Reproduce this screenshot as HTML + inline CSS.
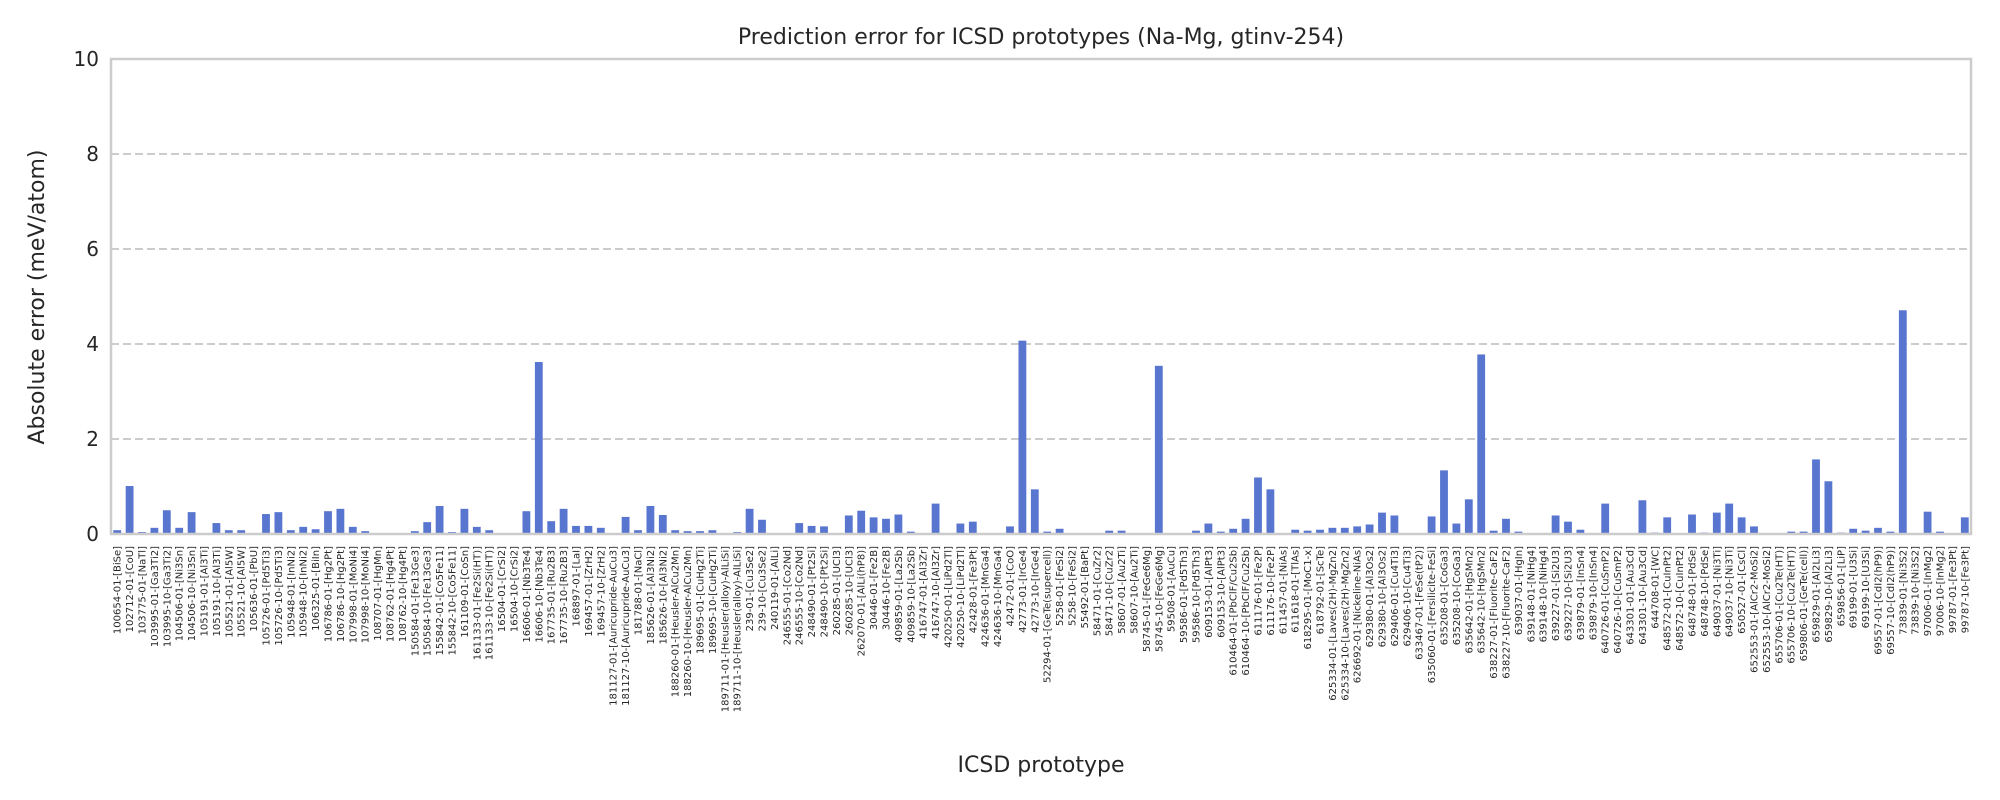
<!DOCTYPE html>
<html><head><meta charset="utf-8">
<style>
html,body{margin:0;padding:0;background:#fff;}
svg{display:block;font-family:"DejaVu Sans","Liberation Sans",sans-serif;}
</style></head>
<body>
<svg id="chart" width="2000" height="800" viewBox="0 0 2000 800">
<text x="1041" y="44" text-anchor="middle" font-size="22" fill="#262626">Prediction error for ICSD prototypes (Na-Mg, gtinv-254)</text>
<text transform="translate(44,297) rotate(-90)" text-anchor="middle" font-size="22" fill="#262626">Absolute error (meV/atom)</text>
<text x="1041" y="772" text-anchor="middle" font-size="22" fill="#262626">ICSD prototype</text>
<g id="grid"></g>
<g id="bars"></g>
<g id="yticks"></g>
<g id="xticks"></g>
<rect x="111" y="59" width="1860" height="475" fill="none" stroke="#cccccc" stroke-width="2.5"/>
</svg>
<script>
const categories = ["100654-01-[BiSe]","102712-01-[CoU]","103775-01-[NaTl]","103995-01-[Ga3Ti2]","103995-10-[Ga3Ti2]","104506-01-[Ni3Sn]","104506-10-[Ni3Sn]","105191-01-[Al3Ti]","105191-10-[Al3Ti]","105521-01-[Al5W]","105521-10-[Al5W]","105636-01-[PbU]","105726-01-[Pd5Ti3]","105726-10-[Pd5Ti3]","105948-01-[InNi2]","105948-10-[InNi2]","106325-01-[BiIn]","106786-01-[Hg2Pt]","106786-10-[Hg2Pt]","107998-01-[MoNi4]","107998-10-[MoNi4]","108707-01-[HgMn]","108762-01-[Hg4Pt]","108762-10-[Hg4Pt]","150584-01-[Fe13Ge3]","150584-10-[Fe13Ge3]","155842-01-[Co5Fe11]","155842-10-[Co5Fe11]","161109-01-[CoSn]","161133-01-[Fe2Si(HT)]","161133-10-[Fe2Si(HT)]","16504-01-[CrSi2]","16504-10-[CrSi2]","16606-01-[Nb3Te4]","16606-10-[Nb3Te4]","167735-01-[Ru2B3]","167735-10-[Ru2B3]","168897-01-[LaI]","169457-01-[ZrH2]","169457-10-[ZrH2]","181127-01-[Auricupride-AuCu3]","181127-10-[Auricupride-AuCu3]","181788-01-[NaCl]","185626-01-[Al3Ni2]","185626-10-[Al3Ni2]","188260-01-[Heusler-AlCu2Mn]","188260-10-[Heusler-AlCu2Mn]","189695-01-[CuHg2Ti]","189695-10-[CuHg2Ti]","189711-01-[Heusler(alloy)-AlLiSi]","189711-10-[Heusler(alloy)-AlLiSi]","239-01-[Cu3Se2]","239-10-[Cu3Se2]","240119-01-[AlLi]","246555-01-[Co2Nd]","246555-10-[Co2Nd]","248490-01-[Pt2Si]","248490-10-[Pt2Si]","260285-01-[UCl3]","260285-10-[UCl3]","262070-01-[AlLi(hP8)]","30446-01-[Fe2B]","30446-10-[Fe2B]","409859-01-[La2Sb]","409859-10-[La2Sb]","416747-01-[Al3Zr]","416747-10-[Al3Zr]","420250-01-[LiPd2Tl]","420250-10-[LiPd2Tl]","42428-01-[Fe3Pt]","424636-01-[MnGa4]","424636-10-[MnGa4]","42472-01-[CoO]","42773-01-[IrGe4]","42773-10-[IrGe4]","52294-01-[GeTe(supercell)]","5258-01-[FeSi2]","5258-10-[FeSi2]","55492-01-[BaPt]","58471-01-[CuZr2]","58471-10-[CuZr2]","58607-01-[Au2Ti]","58607-10-[Au2Ti]","58745-01-[FeGe6Mg]","58745-10-[FeGe6Mg]","59508-01-[AuCu]","59586-01-[Pd5Th3]","59586-10-[Pd5Th3]","609153-01-[AlPt3]","609153-10-[AlPt3]","610464-01-[PbClF/Cu2Sb]","610464-10-[PbClF/Cu2Sb]","611176-01-[Fe2P]","611176-10-[Fe2P]","611457-01-[NiAs]","611618-01-[TlAs]","618295-01-[MoC1-x]","618792-01-[ScTe]","625334-01-[Laves(2H)-MgZn2]","625334-10-[Laves(2H)-MgZn2]","626692-01-[Nickeline-NiAs]","629380-01-[Al3Os2]","629380-10-[Al3Os2]","629406-01-[Cu4Ti3]","629406-10-[Cu4Ti3]","633467-01-[FeSe(tP2)]","635060-01-[Fersilicite-FeSi]","635208-01-[CoGa3]","635208-10-[CoGa3]","635642-01-[HgSMn2]","635642-10-[HgSMn2]","638227-01-[Fluorite-CaF2]","638227-10-[Fluorite-CaF2]","639037-01-[HgIn]","639148-01-[NiHg4]","639148-10-[NiHg4]","639227-01-[Si2U3]","639227-10-[Si2U3]","639879-01-[InSn4]","639879-10-[InSn4]","640726-01-[CuSmP2]","640726-10-[CuSmP2]","643301-01-[Au3Cd]","643301-10-[Au3Cd]","644708-01-[WC]","648572-01-[CuInPt2]","648572-10-[CuInPt2]","648748-01-[PdSe]","648748-10-[PdSe]","649037-01-[Ni3Ti]","649037-10-[Ni3Ti]","650527-01-[CsCl]","652553-01-[AlCr2-MoSi2]","652553-10-[AlCr2-MoSi2]","655706-01-[Cu2Te(HT)]","655706-10-[Cu2Te(HT)]","659806-01-[GeTe(cell)]","659829-01-[Al2Li3]","659829-10-[Al2Li3]","659856-01-[LiP]","69199-01-[U3Si]","69199-10-[U3Si]","69557-01-[CdI2(hP9)]","69557-10-[CdI2(hP9)]","73839-01-[Ni3S2]","73839-10-[Ni3S2]","97006-01-[InMg2]","97006-10-[InMg2]","99787-01-[Fe3Pt]","99787-10-[Fe3Pt]"];
const errors = [0.08,1.01,0.04,0.13,0.5,0.13,0.46,0,0.23,0.08,0.08,0,0.42,0.46,0.08,0.15,0.1,0.48,0.53,0.15,0.06,0,0,0,0.06,0.25,0.59,0.04,0.53,0.15,0.08,0,0,0.48,3.62,0.27,0.53,0.17,0.17,0.13,0,0.36,0.08,0.59,0.4,0.08,0.06,0.06,0.08,0,0.04,0.53,0.3,0,0,0.23,0.17,0.16,0,0.39,0.49,0.35,0.32,0.41,0.05,0.01,0.64,0,0.22,0.26,0,0,0.16,4.07,0.94,0.05,0.11,0,0,0,0.07,0.07,0,0,3.54,0,0,0.07,0.22,0.05,0.11,0.32,1.19,0.94,0,0.09,0.07,0.09,0.13,0.13,0.16,0.2,0.45,0.39,0,0,0.37,1.34,0.22,0.73,3.78,0.07,0.32,0.05,0,0,0.39,0.26,0.09,0,0.64,0,0,0.71,0.03,0.35,0,0.41,0.03,0.45,0.64,0.35,0.16,0,0,0.05,0.05,1.57,1.11,0.03,0.11,0.07,0.13,0.05,4.71,0,0.47,0.05,0,0.35];
const yTicks = [0,2,4,6,8,10];

const NS = "http://www.w3.org/2000/svg";
const L = 111, R = 1971, T = 59, B = 534;
const yMax = 10;
const step = (R - L) / categories.length;
const barW = step * 0.63;
function yScale(v){ return B - (v / yMax) * (B - T); }
function xScale(i){ return L + (i + 0.5) * step; }

const grid = document.getElementById('grid');
const yt = document.getElementById('yticks');
yTicks.forEach(t => {
  const y = yScale(t);
  if (t > 0 && t < yMax) {
    const ln = document.createElementNS(NS, 'line');
    
    
    ln.setAttribute('x1', L); ln.setAttribute('x2', R);
    ln.setAttribute('y1', y); ln.setAttribute('y2', y);
    ln.setAttribute('stroke', '#cccccc'); ln.setAttribute('stroke-width', '2');
    ln.setAttribute('stroke-dasharray', '8,4');
    grid.appendChild(ln);
  }
  const tx = document.createElementNS(NS, 'text');
  
  
  tx.setAttribute('x', L - 12); tx.setAttribute('y', y + 7);
  tx.setAttribute('text-anchor', 'end'); tx.setAttribute('font-size', '20');
  tx.setAttribute('fill', '#262626');
  tx.textContent = String(t);
  yt.appendChild(tx);
});

const bars = document.getElementById('bars');
const xt = document.getElementById('xticks');
categories.forEach((c, i) => {
  const v = errors[i];
  const x = xScale(i);
  const r = document.createElementNS(NS, 'rect');
  
  
  r.setAttribute('x', x - barW / 2);
  r.setAttribute('y', yScale(v));
  r.setAttribute('width', barW);
  r.setAttribute('height', Math.max(0, B - yScale(v)));
  r.setAttribute('fill', '#5875cf');
  bars.appendChild(r);
  const tx = document.createElementNS(NS, 'text');
  
  
  tx.setAttribute('transform', 'translate(' + (x + 3.5) + ',' + (B + 12) + ') rotate(-90)');
  tx.setAttribute('text-anchor', 'end'); tx.setAttribute('font-size', '10');
  tx.setAttribute('fill', '#262626');
  tx.textContent = c;
  xt.appendChild(tx);
});
</script>
</body></html>
